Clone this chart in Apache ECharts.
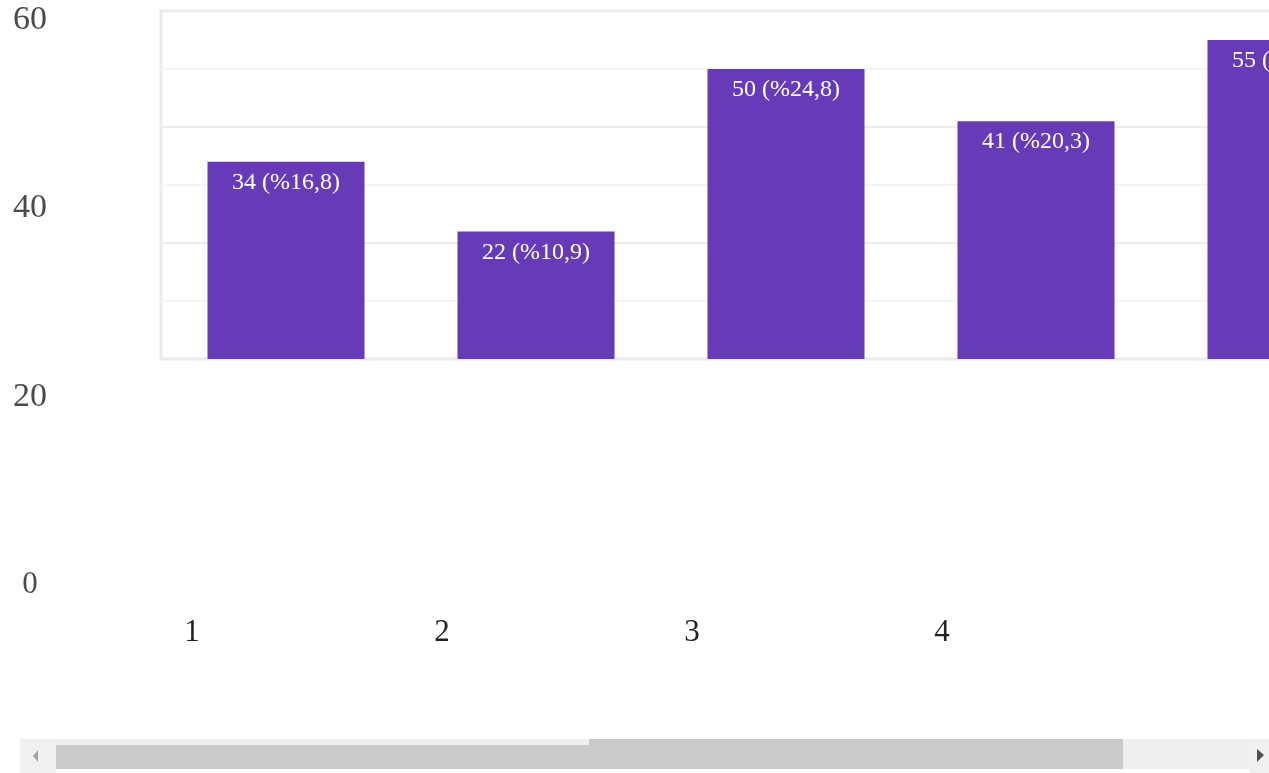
<!DOCTYPE html>
<html>
<head>
<meta charset="utf-8">
<script src="https://cdn.jsdelivr.net/npm/echarts@6/dist/echarts.min.js"></script>
<style>
  html, body { margin: 0; padding: 0; background: #fff; overflow: hidden; }
  #chart { width: 1420px; height: 773px; }
</style>
</head>
<body>
<div id="chart"></div>
<script>
// Answer options and how many responses each got
const categories = ['1', '2', '3', '4', '5'];
const counts = [34, 22, 50, 41, 55];
// Labels along the lower axes
const xTickLabels = ['1', '2', '3', '4'];
const yMin = 0;
const yMax = 60;
const yStep = 20;

const total = counts.reduce((a, b) => a + b, 0);
const pct = v => (v / total * 100).toFixed(1).replace('.', ',');

const chart = echarts.init(document.getElementById('chart'), null, { renderer: 'canvas' });

const serif = '"Liberation Serif", "DejaVu Serif", serif';

chart.setOption({
  animation: false,
  backgroundColor: '#ffffff',
  grid: [
    { left: 161, top: 11, width: 1250, height: 348, show: true,
      borderColor: '#ebebeb', borderWidth: 3, backgroundColor: '#ffffff' },
    { left: 67, top: 20, width: 1000, height: 565 }
  ],
  xAxis: [
    { type: 'category', gridIndex: 0, data: categories,
      axisLine: { show: false }, axisTick: { show: false }, axisLabel: { show: false } },
    { type: 'category', gridIndex: 1, data: xTickLabels,
      axisLine: { show: false }, axisTick: { show: false },
      axisLabel: { fontFamily: serif, fontSize: 31, color: '#222222',
        verticalAlign: 'middle', margin: 48 } }
  ],
  yAxis: [
    { type: 'value', gridIndex: 0, min: yMin, max: yMax, interval: yStep,
      axisLine: { show: false }, axisTick: { show: false }, axisLabel: { show: false },
      splitLine: { show: true, lineStyle: { color: '#ebebeb', width: 2 } },
      minorTick: { show: false, splitNumber: 2 },
      minorSplitLine: { show: true, lineStyle: { color: '#f4f4f4', width: 2 } } },
    { type: 'value', gridIndex: 1, min: yMin, max: yMax, interval: yStep,
      axisLine: { show: false }, axisTick: { show: false }, splitLine: { show: false },
      axisLabel: { fontFamily: serif, fontSize: 34, color: '#4a4a4a',
        align: 'center', verticalAlign: 'middle', margin: 37,
        formatter: v => v === 0 ? '{z|0}' : String(v),
        rich: { z: { fontFamily: serif, fontSize: 31, color: '#4a4a4a' } } } }
  ],
  series: [
    {
      type: 'bar', xAxisIndex: 0, yAxisIndex: 0,
      data: counts,
      barWidth: 157,
      itemStyle: { color: '#673ab7' },
      label: {
        show: true, position: 'insideTop', distance: 9,
        fontFamily: serif, fontSize: 24, color: '#ffffff',
        formatter: p => p.value + ' (%' + pct(p.value) + ')'
      }
    }
  ],
  graphic: [
    // horizontal scrollbar under the chart
    { type: 'rect', shape: { x: 20, y: 739, width: 36, height: 34 }, style: { fill: '#f0f0f0' }, silent: true },
    { type: 'polygon', shape: { points: [[33, 756], [38, 750], [38, 762]] }, style: { fill: '#a3a3a3' }, silent: true },
    { type: 'rect', shape: { x: 56, y: 739, width: 1194, height: 30 }, style: { fill: '#efefef' }, silent: true },
    { type: 'rect', shape: { x: 56, y: 745, width: 533, height: 24 }, style: { fill: '#cbcbcb' }, silent: true },
    { type: 'rect', shape: { x: 589, y: 739, width: 534, height: 30 }, style: { fill: '#cbcbcb' }, silent: true },
    { type: 'rect', shape: { x: 1250, y: 739, width: 19, height: 34 }, style: { fill: '#f0f0f0' }, silent: true },
    { type: 'polygon', shape: { points: [[1257, 749], [1264, 755], [1257, 762]] }, style: { fill: '#505050' }, silent: true }
  ]
});
</script>
</body>
</html>
